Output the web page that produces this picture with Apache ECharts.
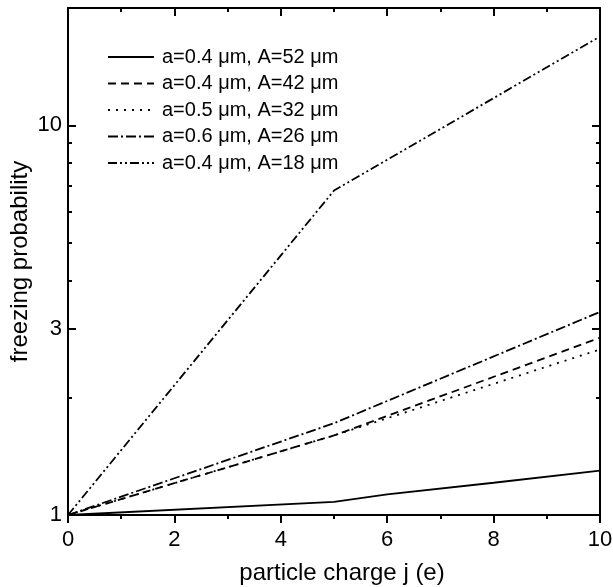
<!DOCTYPE html>
<html>
<head>
<meta charset="utf-8">
<script src="https://cdn.jsdelivr.net/npm/echarts@6/dist/echarts.min.js"></script>
<style>
  html, body { margin: 0; padding: 0; background: #fff; }
  #main { width: 613px; height: 587px; }
</style>
</head>
<body>
<div id="main"></div>
<script type="text/javascript">
  // 曲线数据 [粒子电荷 j, 冻结概率]
  var names = [
    'a=0.4 \u03bcm, A=52 \u03bcm',
    'a=0.4 \u03bcm, A=42 \u03bcm',
    'a=0.5 \u03bcm, A=32 \u03bcm',
    'a=0.6 \u03bcm, A=26 \u03bcm',
    'a=0.4 \u03bcm, A=18 \u03bcm'
  ];
  var curveA52 = [[0, 1], [5, 1.08], [6, 1.13], [8, 1.21], [10, 1.30]];
  var curveA42 = [[0, 1], [5, 1.60], [10, 2.85]];
  var curveA32 = [[0, 1], [5, 1.60], [10, 2.66]];
  var curveA26 = [[0, 1], [5, 1.72], [10, 3.32]];
  var curveA18 = [[0, 1], [5, 6.8], [10, 16.9]];

  var yMajor = [1, 3, 10];            // 主刻度 (带标签)
  var yMinor = [2, 4, 5, 6, 7, 8, 9]; // 次刻度
  var yMax = 20;

  var dashes = ['solid', [8, 5], [2, 6], [10, 3, 2, 3], [9, 3, 2, 3, 2, 3]];
  var curves = [curveA52, curveA42, curveA32, curveA26, curveA18];

  var font = "'Liberation Sans', Arial, sans-serif";
  var lg = function (v) { return Math.log10(v); };

  var chart = echarts.init(document.getElementById('main'));

  // y 轴用 log10 变换后的值画
  function yAxis(pos, ticks, len, withLine, withLabel) {
    return {
      type: 'value',
      position: pos,
      min: 0,
      max: lg(yMax),
      splitLine: { show: false },
      axisLine: { show: withLine, lineStyle: { color: '#000', width: 2 } },
      axisTick: {
        show: true, inside: true, length: len,
        customValues: ticks.map(lg),
        lineStyle: { color: '#000', width: 2 }
      },
      axisLabel: {
        show: withLabel,
        customValues: ticks.map(lg),
        formatter: function (v) { return String(Math.round(Math.pow(10, v))); },
        color: '#000', fontSize: 22, fontFamily: font, margin: 6
      }
    };
  }

  function xAxis(pos, inside, withLabel) {
    return {
      type: 'value',
      position: pos,
      min: 0,
      max: 10,
      interval: 2,
      splitLine: { show: false },
      axisLine: { show: true, onZero: false, lineStyle: { color: '#000', width: 2 } },
      axisTick: { show: true, inside: inside, length: 8, lineStyle: { color: '#000', width: 2 } },
      minorTick: { show: true, splitNumber: 2, length: 4, lineStyle: { color: '#000', width: 2 } },
      axisLabel: { show: withLabel, color: '#000', fontSize: 22, fontFamily: font, margin: 14 }
    };
  }

  var xBottom = xAxis('bottom', false, true);
  xBottom.name = 'particle charge j (e)';
  xBottom.nameLocation = 'middle';
  xBottom.nameGap = 46;
  xBottom.nameTextStyle = { color: '#000', fontSize: 24, fontFamily: font, padding: [0, 0, 0, 16] };

  var yLeft = yAxis('left', yMajor, 8, true, true);
  yLeft.name = 'freezing probability';
  yLeft.nameLocation = 'middle';
  yLeft.nameGap = 36;
  yLeft.nameMoveOverlap = false;
  yLeft.nameTextStyle = { color: '#000', fontSize: 24, fontFamily: font };

  var option = {
    animation: false,
    backgroundColor: '#fff',
    grid: { left: 68, right: 13, top: 8, bottom: 72, containLabel: false, outerBoundsMode: 'none' },
    legend: {
      orient: 'vertical',
      left: 102,
      top: 42,
      itemWidth: 46,
      itemHeight: 14,
      itemGap: 6.5,
      selectedMode: false,
      data: names,
      itemStyle: { opacity: 0, borderWidth: 0 },
      textStyle: { color: '#000', fontSize: 20, fontFamily: font, lineHeight: 20, padding: [0, 0, 0, 3] }
    },
    xAxis: [xBottom, xAxis('top', true, false)],
    yAxis: [
      yLeft,
      yAxis('left', yMinor, 4, false, false),
      yAxis('right', yMajor, 8, true, false),
      yAxis('right', yMinor, 4, false, false)
    ],
    series: curves.map(function (c, i) {
      return {
        name: names[i],
        type: 'line',
        xAxisIndex: 0,
        yAxisIndex: 0,
        symbol: 'none',
        lineStyle: { color: '#000', width: 1.8, type: dashes[i] },
        itemStyle: { color: '#000' },
        data: c.map(function (p) { return [p[0], lg(p[1])]; })
      };
    })
  };
  chart.setOption(option);
</script>
</body>
</html>
